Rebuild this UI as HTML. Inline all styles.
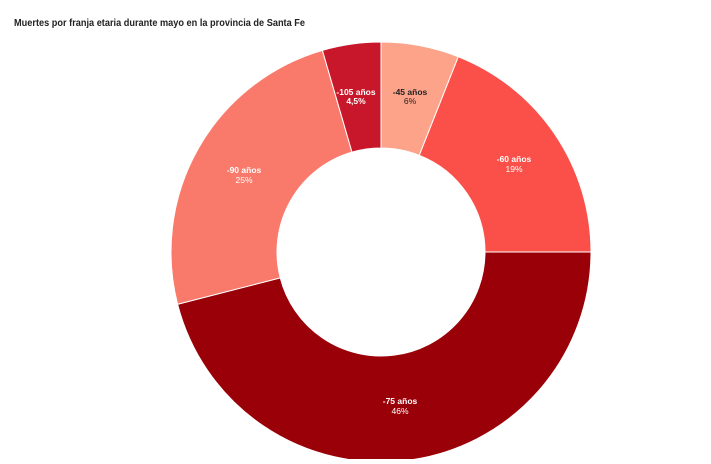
<!DOCTYPE html>
<html><head><meta charset="utf-8"><style>
body{margin:0;background:#fff;width:711px;height:459px;overflow:hidden;font-family:"Liberation Sans",sans-serif}
</style></head><body>
<svg width="711" height="459" xmlns="http://www.w3.org/2000/svg" id="s">
<text x="14" y="26" font-size="10" font-weight="bold" fill="#222" textLength="291" lengthAdjust="spacingAndGlyphs" font-family="Liberation Sans, sans-serif">Muertes por franja etaria durante mayo en la provincia de Santa Fe</text>
<g id="g"></g>
<g font-family="Liberation Sans, sans-serif" font-size="8.5" text-anchor="middle" font-weight="bold">
<text x="410" y="95" fill="#222">-45 años</text><text x="410" y="104" fill="#222" font-weight="normal">6%</text>
<text x="356" y="95" fill="#fff">-105 años</text><text x="356" y="104" fill="#fff">4,5%</text>
<text x="514" y="162" fill="#fff">-60 años</text><text x="514" y="172" fill="#fff" font-weight="normal">19%</text>
<text x="244" y="173" fill="#fff">-90 años</text><text x="244" y="183" fill="#fff" font-weight="normal">25%</text>
<text x="400" y="404" fill="#fff">-75 años</text><text x="400" y="414" fill="#fff" font-weight="normal">46%</text>
</g>
</svg>
<script>
var cx=381,cy=252,R=210,r=104;
var segs=[[0,6,"#fca38a"],[6,25,"#fa5049"],[25,71,"#9a0007"],[71,95.5,"#f97a6b"],[95.5,100,"#c8172a"]];
var g=document.getElementById("g"),h="";
function p(a,rad){var t=a/100*2*Math.PI;return [cx+rad*Math.sin(t),cy-rad*Math.cos(t)];}
segs.forEach(function(s){var a=p(s[0],R),b=p(s[1],R),c=p(s[1],r),d=p(s[0],r),l=(s[1]-s[0])>50?1:0;
h+='<path fill="'+s[2]+'" stroke="#fff" stroke-width="1" d="M'+a+' A'+R+' '+R+' 0 '+l+' 1 '+b+' L'+c+' A'+r+' '+r+' 0 '+l+' 0 '+d+' Z"/>';});
g.innerHTML=h;
</script>
</body></html>
